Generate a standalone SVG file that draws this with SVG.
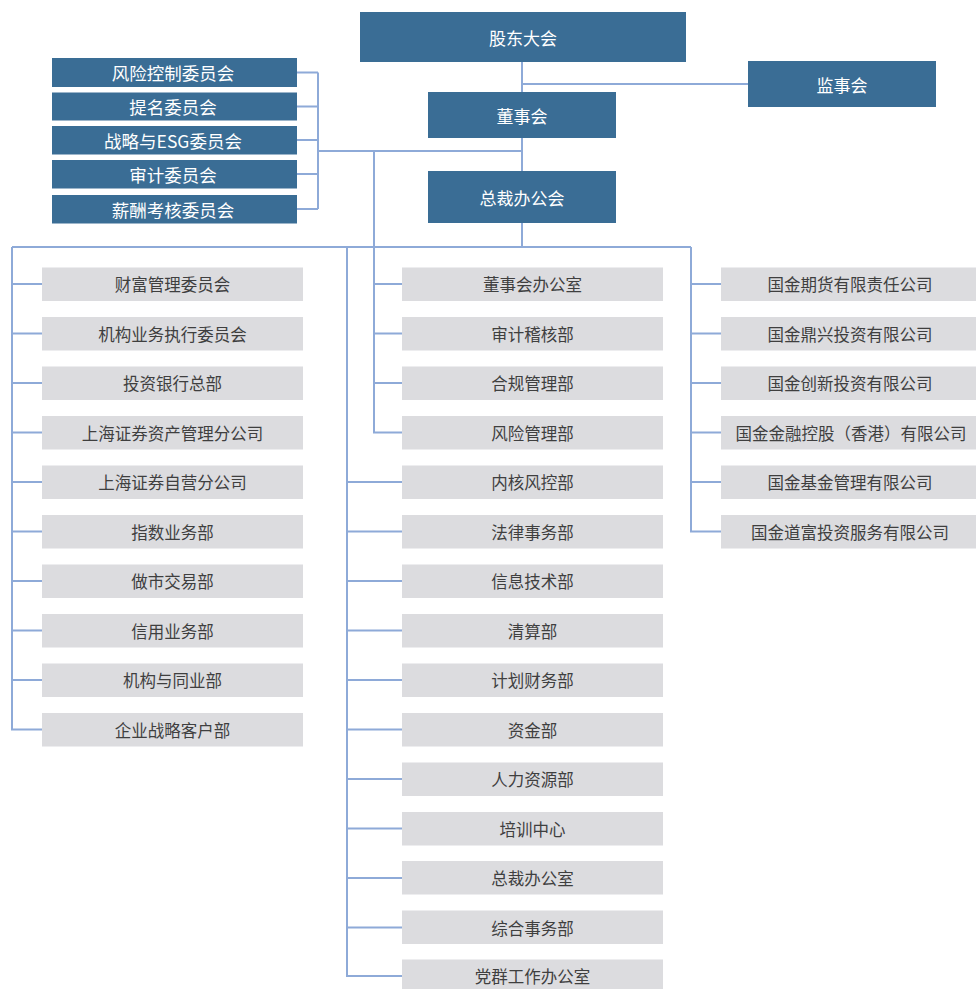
<svg xmlns="http://www.w3.org/2000/svg" width="976" height="989" viewBox="0 0 976 989">
<style>
.b{fill:#3a6d95}
.g{fill:#dcdcdf}
.tw{fill:#ffffff;font-family:"Noto Sans CJK SC","Noto Sans",sans-serif;font-size:17px;text-anchor:middle;dominant-baseline:central}
.tc{font-size:17.5px}
.tg{fill:#3f3f3f;font-family:"Noto Sans CJK SC","Noto Sans",sans-serif;font-size:16.5px;text-anchor:middle;dominant-baseline:central}
.c{fill:none;stroke:#8eaad8;stroke-width:2}
</style>
<rect width="976" height="989" fill="#ffffff"/>
<g id="connectors" class="c">
<path d="M522 62V171M522 84H748"/>
<path d="M297 72.5H318M297 106.5H318M297 140H318M297 174H318M297 209H318M318 72.5V209M318 151H522"/>
<path d="M374 151V432.5H402M374 284H402M374 333.5H402M374 383H402"/>
<path d="M522 223V247M12 247H691"/>
<path d="M12 247V729.5H42M12 284H42M12 333.5H42M12 383H42M12 432.5H42M12 482H42M12 531.5H42M12 581H42M12 630.5H42M12 680H42"/>
<path d="M347 247V976H402M347 482H402M347 531.5H402M347 581H402M347 630.5H402M347 680H402M347 729.5H402M347 779H402M347 828.5H402M347 878H402M347 927.5H402"/>
<path d="M691 247V531.5H721M691 284H721M691 333.5H721M691 383H721M691 432.5H721M691 482H721"/>
</g>
<g id="n-gddh"><rect class="b" x="360" y="12" width="326" height="50"/><text class="tw" x="523" y="37">股东大会</text></g>
<g id="n-jsh"><rect class="b" x="748" y="61" width="188" height="46"/><text class="tw" x="842" y="84">监事会</text></g>
<g id="n-dsh"><rect class="b" x="428" y="92" width="188" height="46"/><text class="tw" x="522" y="115">董事会</text></g>
<g id="n-zcbgh"><rect class="b" x="428" y="171" width="188" height="52"/><text class="tw" x="522" y="197">总裁办公会</text></g>
<g id="n-fxkz"><rect class="b" x="52" y="58" width="245" height="29"/><text class="tw tc" x="173" y="72.5">风险控制委员会</text></g>
<g id="n-tm"><rect class="b" x="52" y="92.5" width="245" height="28"/><text class="tw tc" x="173" y="106.5">提名委员会</text></g>
<g id="n-zl"><rect class="b" x="52" y="126" width="245" height="28.5"/><text class="tw tc" x="173" y="140">战略与ESG委员会</text></g>
<g id="n-sj"><rect class="b" x="52" y="160" width="245" height="28.5"/><text class="tw tc" x="173" y="174">审计委员会</text></g>
<g id="n-xc"><rect class="b" x="52" y="195" width="245" height="28.5"/><text class="tw tc" x="173" y="209">薪酬考核委员会</text></g>
<g id="n-l0"><rect class="g" x="42" y="267.5" width="261" height="33.5"/><text class="tg" x="172.5" y="284">财富管理委员会</text></g>
<g id="n-l1"><rect class="g" x="42" y="317" width="261" height="33.5"/><text class="tg" x="172.5" y="333.5">机构业务执行委员会</text></g>
<g id="n-l2"><rect class="g" x="42" y="366.5" width="261" height="33.5"/><text class="tg" x="172.5" y="383">投资银行总部</text></g>
<g id="n-l3"><rect class="g" x="42" y="416" width="261" height="33.5"/><text class="tg" x="172.5" y="432.5">上海证券资产管理分公司</text></g>
<g id="n-l4"><rect class="g" x="42" y="465.5" width="261" height="33.5"/><text class="tg" x="172.5" y="482">上海证券自营分公司</text></g>
<g id="n-l5"><rect class="g" x="42" y="515" width="261" height="33.5"/><text class="tg" x="172.5" y="531.5">指数业务部</text></g>
<g id="n-l6"><rect class="g" x="42" y="564.5" width="261" height="33.5"/><text class="tg" x="172.5" y="581">做市交易部</text></g>
<g id="n-l7"><rect class="g" x="42" y="614" width="261" height="33.5"/><text class="tg" x="172.5" y="630.5">信用业务部</text></g>
<g id="n-l8"><rect class="g" x="42" y="663.5" width="261" height="33.5"/><text class="tg" x="172.5" y="680">机构与同业部</text></g>
<g id="n-l9"><rect class="g" x="42" y="713" width="261" height="33.5"/><text class="tg" x="172.5" y="729.5">企业战略客户部</text></g>
<g id="n-m0"><rect class="g" x="402" y="267.5" width="261" height="33.5"/><text class="tg" x="532.5" y="284">董事会办公室</text></g>
<g id="n-m1"><rect class="g" x="402" y="317" width="261" height="33.5"/><text class="tg" x="532.5" y="333.5">审计稽核部</text></g>
<g id="n-m2"><rect class="g" x="402" y="366.5" width="261" height="33.5"/><text class="tg" x="532.5" y="383">合规管理部</text></g>
<g id="n-m3"><rect class="g" x="402" y="416" width="261" height="33.5"/><text class="tg" x="532.5" y="432.5">风险管理部</text></g>
<g id="n-m4"><rect class="g" x="402" y="465.5" width="261" height="33.5"/><text class="tg" x="532.5" y="482">内核风控部</text></g>
<g id="n-m5"><rect class="g" x="402" y="515" width="261" height="33.5"/><text class="tg" x="532.5" y="531.5">法律事务部</text></g>
<g id="n-m6"><rect class="g" x="402" y="564.5" width="261" height="33.5"/><text class="tg" x="532.5" y="581">信息技术部</text></g>
<g id="n-m7"><rect class="g" x="402" y="614" width="261" height="33.5"/><text class="tg" x="532.5" y="630.5">清算部</text></g>
<g id="n-m8"><rect class="g" x="402" y="663.5" width="261" height="33.5"/><text class="tg" x="532.5" y="680">计划财务部</text></g>
<g id="n-m9"><rect class="g" x="402" y="713" width="261" height="33.5"/><text class="tg" x="532.5" y="729.5">资金部</text></g>
<g id="n-m10"><rect class="g" x="402" y="762.5" width="261" height="33.5"/><text class="tg" x="532.5" y="779">人力资源部</text></g>
<g id="n-m11"><rect class="g" x="402" y="812" width="261" height="33.5"/><text class="tg" x="532.5" y="828.5">培训中心</text></g>
<g id="n-m12"><rect class="g" x="402" y="861" width="261" height="33.5"/><text class="tg" x="532.5" y="878">总裁办公室</text></g>
<g id="n-m13"><rect class="g" x="402" y="910.5" width="261" height="33.5"/><text class="tg" x="532.5" y="927.5">综合事务部</text></g>
<g id="n-m14"><rect class="g" x="402" y="959.5" width="261" height="33.5"/><text class="tg" x="532.5" y="976">党群工作办公室</text></g>
<g id="n-r0"><rect class="g" x="721" y="267.5" width="255" height="33.5"/><text class="tg" x="850" y="284">国金期货有限责任公司</text></g>
<g id="n-r1"><rect class="g" x="721" y="317" width="255" height="33.5"/><text class="tg" x="850" y="333.5">国金鼎兴投资有限公司</text></g>
<g id="n-r2"><rect class="g" x="721" y="366.5" width="255" height="33.5"/><text class="tg" x="850" y="383">国金创新投资有限公司</text></g>
<g id="n-r3"><rect class="g" x="721" y="416" width="255" height="33.5"/><text class="tg" x="851" y="432.5">国金金融控股（香港）有限公司</text></g>
<g id="n-r4"><rect class="g" x="721" y="465.5" width="255" height="33.5"/><text class="tg" x="850" y="482">国金基金管理有限公司</text></g>
<g id="n-r5"><rect class="g" x="721" y="515" width="255" height="33.5"/><text class="tg" x="850" y="531.5">国金道富投资服务有限公司</text></g>
</svg>
